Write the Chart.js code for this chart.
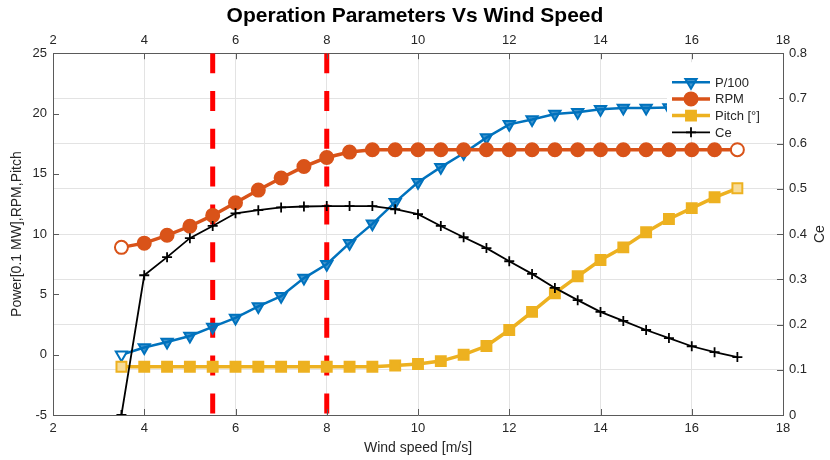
<!DOCTYPE html>
<html><head><meta charset="utf-8">
<script src="https://cdn.jsdelivr.net/npm/chart.js@4.4.0/dist/chart.umd.min.js"></script>
<style>html,body{margin:0;padding:0;background:#fff;}</style>
</head><body>
<canvas id="c" width="830" height="460"></canvas>
<script>
const windSpeed = [3.5,4,4.5,5,5.5,6,6.5,7,7.5,8,8.5,9,9.5,10,10.5,11,11.5,12,12.5,13,13.5,14,14.5,15,15.5,16,16.5,17];
const power = [0.0,0.6,1.05,1.55,2.3,3.05,4.0,4.85,6.35,7.5,9.25,10.85,12.65,14.3,15.55,16.7,18.0,19.1,19.5,19.95,20.1,20.35,20.45,20.45,20.5,20.5,20.5,20.5];
const rpm = [8.9,9.25,9.9,10.65,11.55,12.6,13.65,14.65,15.6,16.35,16.8,17,17,17,17,17,17,17,17,17,17,17,17,17,17,17,17,17];
const pitch = [-1,-1,-1,-1,-1,-1,-1,-1,-1,-1,-1,-1,-0.9,-0.77,-0.53,0.0,0.72,2.05,3.55,5.1,6.5,7.85,8.9,10.15,11.25,12.15,13.05,13.8];
const ce = [0,0.309,0.349,0.391,0.418,0.446,0.453,0.459,0.461,0.462,0.462,0.462,0.455,0.444,0.418,0.393,0.369,0.340,0.312,0.281,0.254,0.228,0.208,0.188,0.170,0.152,0.139,0.128];
const markerLines = [5.5, 8];
const xRange = [2, 18], xStep = 2;
const leftRange = [-5, 25], leftStep = 5;
const rightRange = [0, 0.8], rightStep = 0.1;
const seriesNames = ['P/100', 'RPM', 'Pitch [°]', 'Ce'];

const FONT = '"Liberation Sans", Arial, Helvetica, sans-serif';
const TXT = '#262626';
const AX = '#5a5a5a';
const GRID = '#e3e3e3';
const n = windSpeed.length;
const pts = arr => windSpeed.map((x, i) => ({x, y: arr[i]}));
const bgArr = (col, hollowIdx) => windSpeed.map((_, i) => hollowIdx.includes(i) ? '#ffffff' : col);

const blue = '#0072BD', orange = '#D95319', yellow = '#EDB120';

const datasets = [
  {label: seriesNames[0], data: pts(power), yAxisID: 'y', borderColor: blue, borderWidth: 2.5,
   pointStyle: 'triangle', pointRotation: 180, pointRadius: 6.5, pointBorderWidth: 2,
   pointBackgroundColor: windSpeed.map((_, i) => i === 0 ? '#ffffff' : 'rgba(0,114,189,0.75)'), pointBorderColor: blue, order: 4},
  {label: seriesNames[1], data: pts(rpm), yAxisID: 'y', borderColor: orange, borderWidth: 3.5,
   pointStyle: 'circle', pointRadius: 6.5, pointBorderWidth: 2,
   pointBackgroundColor: bgArr(orange, [0, n - 1]), pointBorderColor: orange, order: 3},
  {label: seriesNames[2], data: pts(pitch), yAxisID: 'y', borderColor: yellow, borderWidth: 3.5,
   pointStyle: 'rect', pointRadius: 7, pointBorderWidth: 2,
   pointBackgroundColor: bgArr(yellow, [0, n - 1]).map(c => c === '#ffffff' ? '#f7dc9a' : c), pointBorderColor: yellow, order: 2},
  {label: seriesNames[3], data: pts(ce), yAxisID: 'y2', borderColor: '#000000', borderWidth: 1.8,
   pointStyle: 'cross', pointRadius: 5, pointBorderWidth: 1.8, pointBorderColor: '#000000', order: 1},
];
markerLines.forEach(v => datasets.push({
  label: 'marker', data: [{x: v, y: leftRange[1]}, {x: v, y: leftRange[0]}], yAxisID: 'y',
  borderColor: '#ff0000', borderWidth: 5, borderDash: [20, 17.8], pointRadius: 0, order: 9
}));

const overlay = {
  id: 'overlay',
  afterDraw(chart) {
    const ctx = chart.ctx, a = chart.chartArea, s = chart.scales;
    ctx.save();
    // inward ticks
    ctx.strokeStyle = AX; ctx.lineWidth = 1;
    ctx.beginPath();
    s.x.ticks.forEach(t => { const px = Math.round(s.x.getPixelForValue(t.value)) + 0.5;
      ctx.moveTo(px, a.bottom); ctx.lineTo(px, a.bottom - 6); ctx.moveTo(px, a.top); ctx.lineTo(px, a.top + 6); });
    s.y.ticks.forEach(t => { const py = Math.round(s.y.getPixelForValue(t.value)) + 0.5;
      ctx.moveTo(a.left, py); ctx.lineTo(a.left + 6, py); });
    s.y2.ticks.forEach(t => { const py = Math.round(s.y2.getPixelForValue(t.value)) + 0.5;
      ctx.moveTo(a.right, py); ctx.lineTo(a.right - 6, py); });
    ctx.stroke();
    // right axis title (reads bottom-up)
    ctx.fillStyle = TXT; ctx.font = '14px ' + FONT;
    ctx.translate(820, (a.top + a.bottom) / 2);
    ctx.rotate(-Math.PI / 2);
    ctx.textAlign = 'center'; ctx.textBaseline = 'middle';
    ctx.fillText('Ce', 0, 0);
    ctx.restore();

    // legend with white background
    ctx.save();
    const lx = a.right - 113, ly = a.top + 19;
    ctx.fillStyle = '#ffffff';
    ctx.fillRect(lx - 3, a.top + 19 - 10, 112, 70);
    datasets.slice(0, 4).forEach((d, i) => {
      const y = ly + 10 + i * 16.7;
      ctx.strokeStyle = d.borderColor; ctx.lineWidth = d.borderWidth;
      ctx.beginPath(); ctx.moveTo(lx + 2, y); ctx.lineTo(lx + 40, y); ctx.stroke();
      ctx.fillStyle = Array.isArray(d.pointBackgroundColor) ? d.pointBackgroundColor[1] : d.borderColor;
      ctx.strokeStyle = d.pointBorderColor; ctx.lineWidth = d.pointBorderWidth;
      Chart.helpers.drawPoint(ctx, {pointStyle: d.pointStyle, radius: d.pointRadius, rotation: d.pointRotation || 0, borderWidth: d.pointBorderWidth}, lx + 21, y);
      ctx.fillStyle = TXT; ctx.font = '13px ' + FONT; ctx.textBaseline = 'middle'; ctx.textAlign = 'left';
      ctx.fillText(d.label, lx + 45, y + 1);
    });
    ctx.restore();
  }
};

new Chart(document.getElementById('c'), {
  type: 'line',
  data: {datasets},
  options: {
    responsive: false, animation: false,
    layout: {padding: 0},
    plugins: {
      legend: {display: false}, tooltip: {enabled: false},
      title: {display: true, text: 'Operation Parameters Vs Wind Speed', color: '#000',
        font: {family: FONT, size: 21, weight: 'bold'}, padding: {top: 4, bottom: 3}}
    },
    scales: {
      x: {type: 'linear', position: 'bottom', min: xRange[0], max: xRange[1],
        ticks: {stepSize: xStep, color: TXT, font: {family: FONT, size: 13}, padding: 6, maxRotation: 0},
        grid: {color: GRID, drawTicks: false}, border: {color: AX},
        title: {display: true, text: 'Wind speed [m/s]', color: TXT, font: {family: FONT, size: 14}, padding: {top: 0, bottom: 3}},
        afterFit: sc => { sc.height = 45; }},
      x2: {type: 'linear', position: 'top', min: xRange[0], max: xRange[1],
        ticks: {stepSize: xStep, color: TXT, font: {family: FONT, size: 13}, padding: 5, maxRotation: 0},
        grid: {drawOnChartArea: false, drawTicks: false}, border: {color: AX},
        afterFit: sc => { sc.height = 21; }},
      y: {type: 'linear', position: 'left', min: leftRange[0], max: leftRange[1],
        ticks: {stepSize: leftStep, color: TXT, font: {family: FONT, size: 13}, padding: 6},
        grid: {drawOnChartArea: false, drawTicks: false}, border: {color: AX},
        title: {display: true, text: 'Power[0.1 MW],RPM,Pitch', color: TXT, font: {family: FONT, size: 14}, padding: {top: 9, bottom: 0}},
        afterFit: sc => { sc.width = 53; }},
      y2: {type: 'linear', position: 'right', min: rightRange[0], max: rightRange[1],
        ticks: {stepSize: rightStep, color: TXT, font: {family: FONT, size: 13}, padding: 6, callback: v => String(+v.toFixed(1))},
        grid: {color: GRID, drawTicks: false}, border: {color: AX},
        afterFit: sc => { sc.width = 47; }}
    }
  },
  plugins: [overlay]
});
</script>
</body></html>
